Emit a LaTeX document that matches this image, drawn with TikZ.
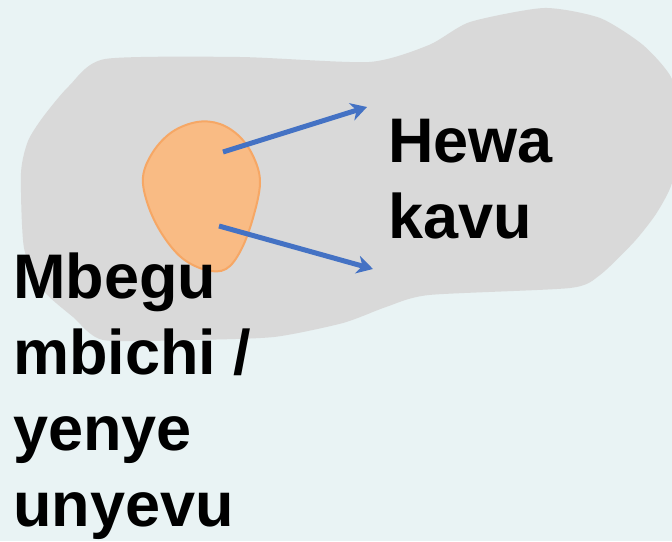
\documentclass[tikz,border=0pt]{standalone}
\usepackage{fontspec}
\setmainfont{Liberation Sans}
\usetikzlibrary{arrows.meta}
\definecolor{bgc}{HTML}{E9F3F4}
\definecolor{blobgray}{HTML}{D9D9D9}
\definecolor{seedfill}{HTML}{F9BB84}
\definecolor{seededge}{HTML}{F6A765}
\definecolor{arrowblue}{HTML}{4472C4}
\tikzset{
  lbl/.style={anchor=base west, inner sep=0pt, font=\fontsize{63}{76}\selectfont\bfseries, text=black},
  flow/.style={draw=arrowblue, line width=5pt, -{Stealth[length=16pt,width=18pt,inset=5pt]}}
}
\begin{document}
\begin{tikzpicture}[x=1pt,y=-1pt]
\fill[bgc] (0,0) rectangle (672,541);
\useasboundingbox (0,0) rectangle (672,541);
% gray blob
\fill[blobgray] plot[smooth cycle, tension=0.4] coordinates {
 (105,59) (240,57) (369,62) (429,45) (470,22) (544,8) (600,18) (643,45)
 (672,79) (680,130) (672,183) (656,214) (634,242) (600,275) (570,288)
 (429,295) (386,307) (343,323) (274,337) (190,340) (103,340) (73,317)
 (43,290) (24,248) (21,173) (28,141) (43,117) (69,86)};
% seed
\filldraw[fill=seedfill, draw=seededge, line width=2pt] plot[smooth cycle, tension=0.6] coordinates {
 (197,122) (172,132) (153,152) (143,177) (148,205) (162,234) (182,258) (206,270) (226,269)
 (241,250) (253,218) (260,183) (254,158) (240,137) (220,124)};
\coordinate (s1) at (223,152);
\coordinate (s2) at (219,226);
\coordinate (t1) at (367,107);
\coordinate (t2) at (373,269);
\draw[flow] (s1) -- (t1);
\draw[flow] (s2) -- (t2);
\node[lbl] (h1) at (388,162) {Hewa};
\node[lbl] (h2) at (388,238) {kavu};
\node[lbl] (m1) at (13,298) {Mbegu};
\node[lbl] (m2) at (13,374) {mbichi /};
\node[lbl] (m3) at (13,450) {yenye};
\node[lbl] (m4) at (13,526) {unyevu};
\end{tikzpicture}
\end{document}
